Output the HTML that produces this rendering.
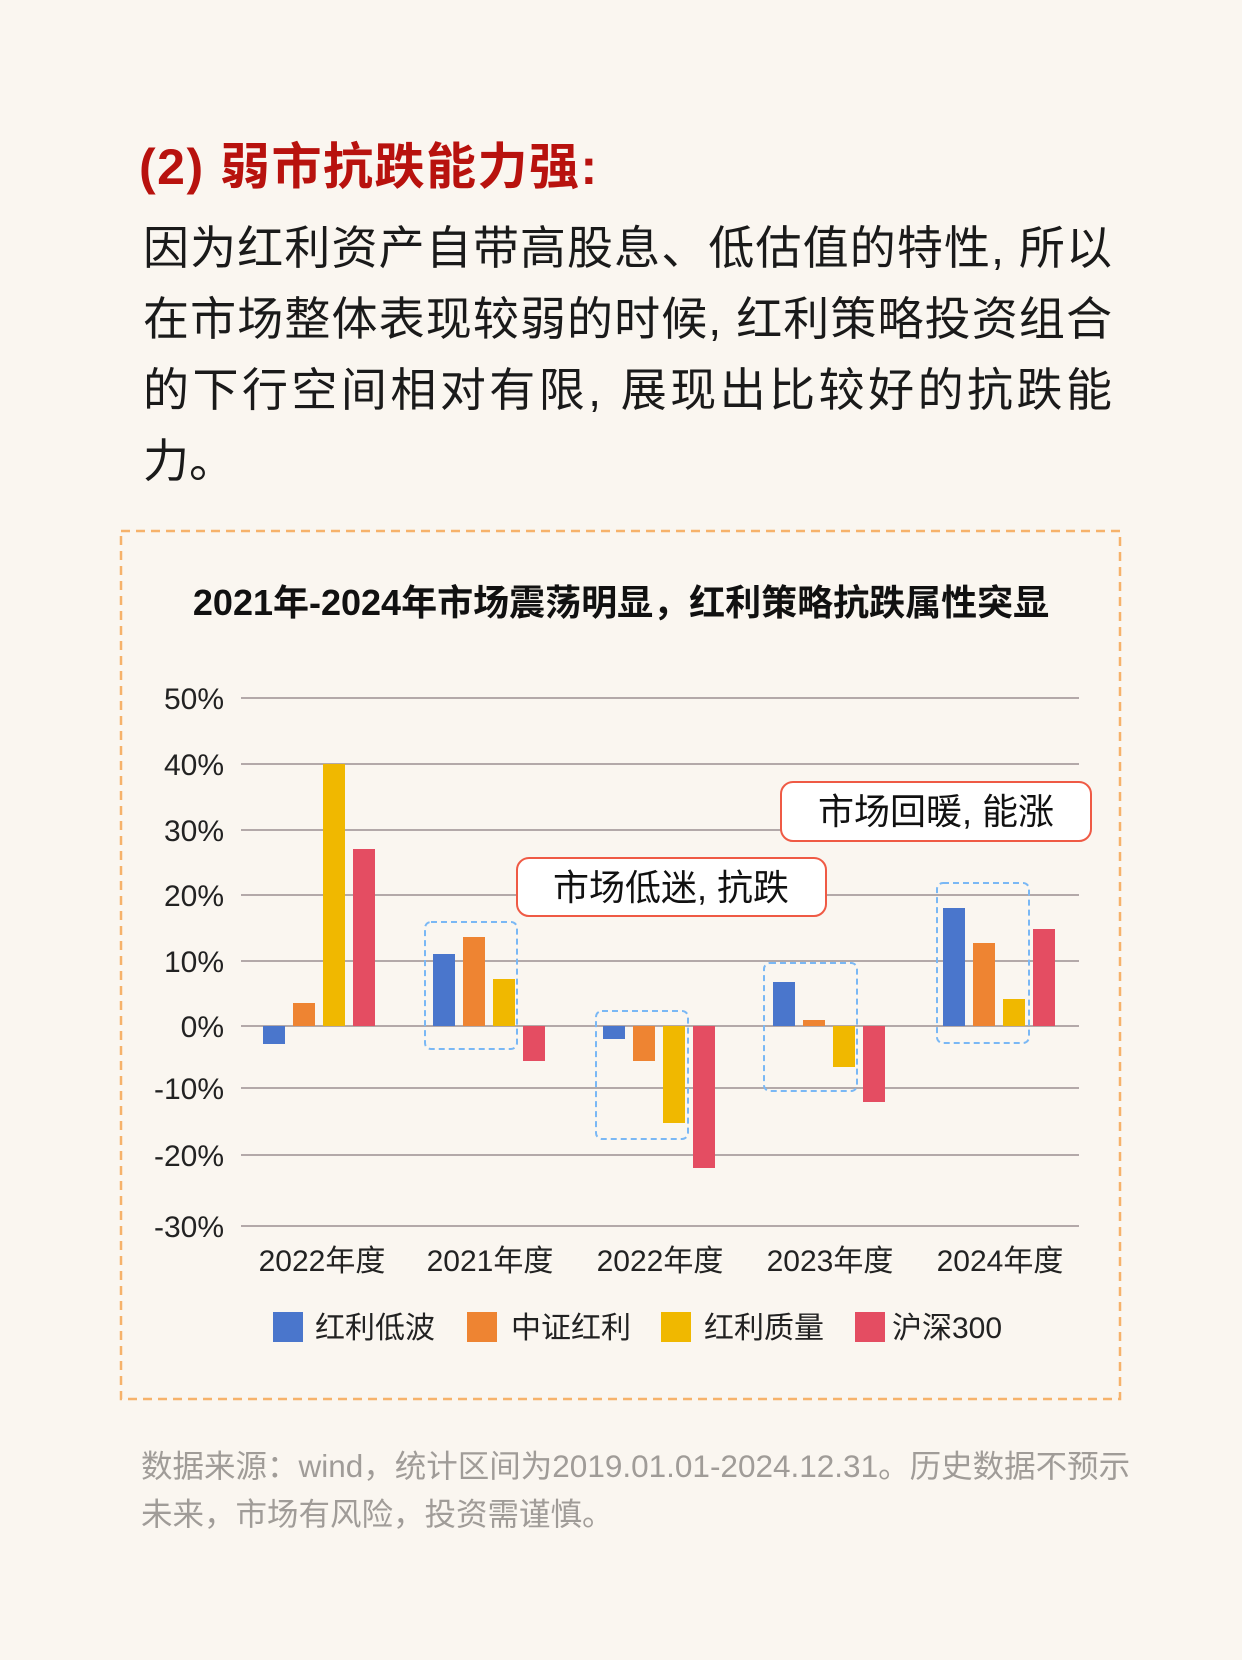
<!DOCTYPE html>
<html><head><meta charset="utf-8"><style>
html,body{margin:0;padding:0;background:#faf6f0;}
svg{display:block;}
text{font-family:"Liberation Sans","Noto Sans CJK SC",sans-serif;}
</style></head><body>
<svg width="1242" height="1660" viewBox="0 0 1242 1660">
<rect width="1242" height="1660" fill="#faf6f0"/>
<text x="139" y="184" font-size="50" font-weight="bold" fill="#b8120e" letter-spacing="1.5">(2) 弱市抗跌能力强:</text>
<g font-size="46" fill="#1a1a1a">
<text x="143" y="264" textLength="969" lengthAdjust="spacing">因为红利资产自带高股息、低估值的特性, 所以</text>
<text x="143" y="335" textLength="969" lengthAdjust="spacing">在市场整体表现较弱的时候, 红利策略投资组合</text>
<text x="143" y="406" textLength="969" lengthAdjust="spacing">的下行空间相对有限, 展现出比较好的抗跌能</text>
<text x="143" y="477">力。</text>
</g>
<rect x="121" y="531" width="999" height="868" fill="none" stroke="#f6b26b" stroke-width="2.5" stroke-dasharray="9,6"/>
<text x="621" y="615" font-size="36" font-weight="bold" text-anchor="middle" fill="#111">2021年-2024年市场震荡明显，红利策略抗跌属性突显</text>
<g stroke="#b3a9a9" stroke-width="2">
<line x1="241" x2="1079" y1="698" y2="698"/><line x1="241" x2="1079" y1="764" y2="764"/>
<line x1="241" x2="1079" y1="830" y2="830"/><line x1="241" x2="1079" y1="895" y2="895"/>
<line x1="241" x2="1079" y1="961" y2="961"/><line x1="241" x2="1079" y1="1026" y2="1026"/>
<line x1="241" x2="1079" y1="1088" y2="1088"/><line x1="241" x2="1079" y1="1155" y2="1155"/>
<line x1="241" x2="1079" y1="1226" y2="1226"/>
</g>
<g font-size="30" fill="#222" text-anchor="end">
<text x="224" y="709">50%</text><text x="224" y="775">40%</text><text x="224" y="841">30%</text>
<text x="224" y="906">20%</text><text x="224" y="972">10%</text><text x="224" y="1037">0%</text>
<text x="224" y="1099">-10%</text><text x="224" y="1166">-20%</text><text x="224" y="1237">-30%</text>
</g>
<g>
<rect x="263" y="1026" width="22" height="18" fill="#4a76cc"/>
<rect x="293" y="1003" width="22" height="23" fill="#ee8432"/>
<rect x="323" y="764" width="22" height="262" fill="#f0b800"/>
<rect x="353" y="849" width="22" height="177" fill="#e44d62"/>
<rect x="433" y="954" width="22" height="72" fill="#4a76cc"/>
<rect x="463" y="937" width="22" height="89" fill="#ee8432"/>
<rect x="493" y="979" width="22" height="47" fill="#f0b800"/>
<rect x="523" y="1026" width="22" height="35" fill="#e44d62"/>
<rect x="603" y="1026" width="22" height="13" fill="#4a76cc"/>
<rect x="633" y="1026" width="22" height="35" fill="#ee8432"/>
<rect x="663" y="1026" width="22" height="97" fill="#f0b800"/>
<rect x="693" y="1026" width="22" height="142" fill="#e44d62"/>
<rect x="773" y="982" width="22" height="44" fill="#4a76cc"/>
<rect x="803" y="1020" width="22" height="6" fill="#ee8432"/>
<rect x="833" y="1026" width="22" height="41" fill="#f0b800"/>
<rect x="863" y="1026" width="22" height="76" fill="#e44d62"/>
<rect x="943" y="908" width="22" height="118" fill="#4a76cc"/>
<rect x="973" y="943" width="22" height="83" fill="#ee8432"/>
<rect x="1003" y="999" width="22" height="27" fill="#f0b800"/>
<rect x="1033" y="929" width="22" height="97" fill="#e44d62"/>
</g>
<g fill="none" stroke="#7ab8f5" stroke-width="2" stroke-dasharray="6,4">
<rect x="425" y="922" width="92" height="127" rx="6"/>
<rect x="596" y="1011" width="92" height="128" rx="6"/>
<rect x="764" y="963" width="93" height="128" rx="6"/>
<rect x="937" y="883" width="92" height="160" rx="6"/>
</g>
<rect x="517" y="858" width="309" height="58" rx="12" fill="#fff" stroke="#ef5a45" stroke-width="2"/>
<text x="671" y="900" font-size="36" text-anchor="middle" fill="#111">市场低迷, 抗跌</text>
<rect x="781" y="782" width="310" height="59" rx="12" fill="#fff" stroke="#ef5a45" stroke-width="2"/>
<text x="936" y="824" font-size="36" text-anchor="middle" fill="#111">市场回暖, 能涨</text>
<g font-size="30" fill="#222" text-anchor="middle">
<text x="322" y="1271">2022年度</text><text x="490" y="1271">2021年度</text>
<text x="660" y="1271">2022年度</text><text x="830" y="1271">2023年度</text>
<text x="1000" y="1271">2024年度</text>
</g>
<g font-size="30" fill="#222">
<rect x="273" y="1312" width="30" height="30" fill="#4a76cc"/><text x="315" y="1338">红利低波</text>
<rect x="467" y="1312" width="30" height="30" fill="#ee8432"/><text x="511" y="1338">中证红利</text>
<rect x="661" y="1312" width="30" height="30" fill="#f0b800"/><text x="704" y="1338">红利质量</text>
<rect x="855" y="1312" width="30" height="30" fill="#e44d62"/><text x="892" y="1338">沪深300</text>
</g>
<g font-size="31.5" fill="#a09c98">
<text x="141" y="1477">数据来源：wind，统计区间为2019.01.01-2024.12.31。历史数据不预示</text>
<text x="141" y="1525">未来，市场有风险，投资需谨慎。</text>
</g>
</svg>
</body></html>
